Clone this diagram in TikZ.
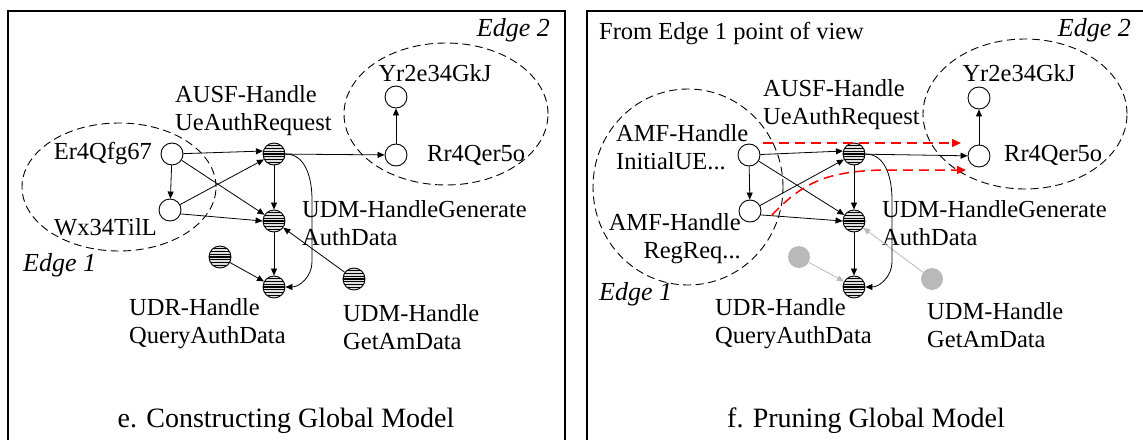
\documentclass[tikz,border=0pt]{standalone}
\usepackage{fontspec}
\setmainfont{Liberation Serif}
\usetikzlibrary{arrows.meta,calc}

\tikzset{
  lbl/.style={font=\fontsize{24.5}{28}\selectfont, inner sep=0pt, align=left},
  rlbl/.style={font=\fontsize{24.5}{28}\selectfont, inner sep=0pt, align=right},
  caption/.style={font=\fontsize{28}{32}\selectfont, inner sep=0pt},
  zone/.style={font=\itshape\fontsize{26}{30}\selectfont, inner sep=0pt},
  plain/.style={circle, draw, line width=0.9pt, fill=white, minimum size=22pt, inner sep=0pt},
  busy/.style={circle, draw, line width=0.9pt, minimum size=22pt, inner sep=0pt, fill=gray!25,
    path picture={\foreach \k in {1,...,7}
      \draw[line width=1.35pt] ($(path picture bounding box.north west)+(0,-\k*2.75)$) -- ++(24,0);}},
  faded/.style={circle, fill=gray!55, minimum size=22pt, inner sep=0pt},
  arr/.style={-{Triangle[length=7pt,width=6pt]}, line width=0.8pt},
  farr/.style={arr, color=gray!55},
  rarr/.style={-{Triangle[length=9pt,width=8pt]}, color=red, line width=1.5pt, dash pattern=on 10pt off 6pt},
  region/.style={draw, dash pattern=on 8pt off 4.5pt, line width=0.9pt},
  panel/.style={draw, line width=1.6pt},
}

\begin{document}
\begin{tikzpicture}[x=1pt,y=1pt]
\useasboundingbox (0,0) rectangle (1143,-439);
\clip (0,0) rectangle (1143,-439);

% panel frames
\draw[panel] (8,-11) rectangle (565,-480);
\draw[panel] (587,-11) rectangle (1200,-480);

% ---------------- e. constructing the global model ----------------
\draw[region] (446,-114) ellipse [x radius=102, y radius=71];
\draw[region] (119,-187) ellipse [x radius=97, y radius=64];

\node[zone, anchor=east] (e2L) at (550,-30) {Edge 2};
\node[zone, anchor=west] (e1L) at (23,-265) {Edge 1};

\node[plain] (er) at (172,-154) {};
\node[plain] (wx) at (170,-210) {};
\node[busy]  (ausf) at (274,-154) {};
\node[busy]  (udmg) at (274,-221) {};
\node[busy]  (udr) at (274,-287) {};
\node[busy]  (sm) at (220,-257) {};
\node[busy]  (gam) at (354,-279) {};
\node[plain] (rr) at (396,-155) {};
\node[plain] (yr) at (396,-97) {};

\node[lbl, anchor=east] (erL) at (152,-154) {Er4Qfg67};
\node[lbl, anchor=east] (wxL) at (157,-227) {Wx34TilL};
\node[lbl, anchor=west] (ausfL) at (175,-111) {AUSF-Handle\\UeAuthRequest};
\node[lbl] (yrL) at (435,-73) {Yr2e34GkJ};
\node[lbl, anchor=west] (rrL) at (427,-155) {Rr4Qer5o};
\node[lbl, anchor=west] (udmgL) at (302,-223) {UDM-HandleGenerate\\AuthData};
\node[lbl, anchor=west] (udrL) at (129,-324) {UDR-Handle\\QueryAuthData};
\node[lbl, anchor=west] (gamL) at (343,-327) {UDM-Handle\\GetAmData};
\node[caption] (capE) at (286,-421) {e. Constructing Global Model};

\draw[arr] (er) -- (ausf.165);
\draw[arr] (er) -- (wx);
\draw[arr] (er) -- (udmg);
\draw[arr] (wx) -- (ausf);
\draw[arr] (wx.-20) -- (udmg.west);
\draw[arr] (ausf) -- (udmg);
\draw[arr] (ausf) -- (rr);
\draw[arr] (rr) -- (yr);
\draw[arr] (udmg) -- (udr);
\draw[arr] (sm) -- (udr);
\draw[arr] (gam) -- (udmg);
\coordinate (bendA) at (312,-200);
\coordinate (bendB) at (312,-262);
\draw[arr] (ausf.east) to[out=0,in=90] (bendA) -- (bendB) to[out=-90,in=0] (udr.east);

% ---------------- f. pruning the global model ----------------
\draw[region] (1025,-114) ellipse [x radius=102, y radius=75];
\draw[region] (688,-187) ellipse [x radius=95, y radius=98];

\node[lbl, anchor=west] (povL) at (599,-34) {From Edge 1 point of view};
\node[zone, anchor=east] (f2L) at (1131,-30) {Edge 2};
\node[zone, anchor=west] (f1L) at (599,-294) {Edge 1};

\node[plain] (amf1) at (749,-155) {};
\node[plain] (amf2) at (750,-211) {};
\node[busy]  (ausf2) at (854,-154) {};
\node[busy]  (udmg2) at (854,-221) {};
\node[busy]  (udr2) at (854,-287) {};
\node[faded] (sm2) at (799,-257) {};
\node[faded] (gam2) at (932,-279) {};
\node[plain] (rr2) at (979,-156) {};
\node[plain] (yr2) at (979,-98) {};

\node[lbl, anchor=west] (amf1L) at (616,-147) {AMF-Handle\\InitialUE...};
\node[rlbl, anchor=east] (amf2L) at (741,-239) {AMF-Handle\\RegReq...};
\node[lbl, anchor=west] (ausf2L) at (763,-105) {AUSF-Handle\\UeAuthRequest};
\node[lbl] (yr2L) at (1019,-73) {Yr2e34GkJ};
\node[lbl, anchor=west] (rr2L) at (1004,-155) {Rr4Qer5o};
\node[lbl, anchor=west] (udmg2L) at (882,-223) {UDM-HandleGenerate\\AuthData};
\node[lbl, anchor=west] (udr2L) at (715,-324) {UDR-Handle\\QueryAuthData};
\node[lbl, anchor=west] (gam2L) at (927,-325) {UDM-Handle\\GetAmData};
\node[caption] (capF) at (866,-421) {f. Pruning Global Model};

\draw[arr] (amf1) -- (ausf2.165);
\draw[arr] (amf1) -- (amf2);
\draw[arr] (amf1) -- (udmg2);
\draw[arr] (amf2) -- (ausf2);
\draw[arr] (amf2.-20) -- (udmg2.west);
\draw[arr] (ausf2) -- (udmg2);
\draw[arr] (ausf2) -- (rr2);
\draw[arr] (rr2) -- (yr2);
\draw[arr] (udmg2) -- (udr2);
\draw[farr] (sm2) -- (udr2);
\draw[farr] (gam2) -- (udmg2);
\coordinate (bendC) at (892,-200);
\coordinate (bendD) at (892,-262);
\draw[arr] (ausf2.east) to[out=0,in=90] (bendC) -- (bendD) to[out=-90,in=0] (udr2.east);

% cross-edge links seen from Edge 1
\coordinate (redA0) at (763,-143);
\coordinate (redA1) at (961,-143);
\coordinate (redB0) at (772,-215);
\coordinate (redB1) at (966,-170);
\draw[rarr] (redA0) -- (redA1);
\draw[rarr] (redB0) .. controls (805,-180) and (830,-172) .. (880,-170) -- (redB1);
\end{tikzpicture}
\end{document}
